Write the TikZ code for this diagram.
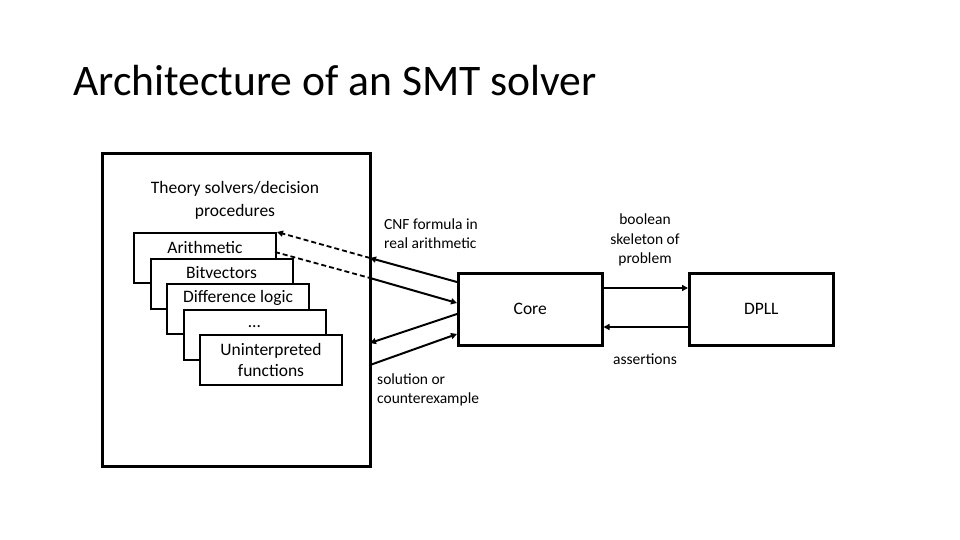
\documentclass[tikz,border=0pt]{standalone}
\usepackage{fontspec}
\setmainfont{Carlito}
\usetikzlibrary{arrows.meta}
\begin{document}
\begin{tikzpicture}[x=1pt,y=-1pt,
  stackbox/.style={draw,line width=2pt,fill=white,minimum width=142pt,minimum height=50pt,anchor=north west,inner sep=0pt},
  boxtext/.style={font=\fontsize{17.5}{21}\selectfont,align=center,inner sep=0pt},
  mainbox/.style={draw,line width=2.5pt,minimum width=144pt,minimum height=72pt,anchor=north west,inner sep=0pt,font=\fontsize{17.5}{21}\selectfont},
  lbl/.style={font=\fontsize{15.5}{19.3}\selectfont,inner sep=0pt},
  arr/.style={line width=2pt,-{Triangle[length=6pt,width=6pt]}},
  dashline/.style={line width=1.8pt,dash pattern=on 5pt off 3pt}
]
\useasboundingbox (0,0) rectangle (960,540);
\node[anchor=base west,inner sep=0pt,font=\fontsize{43.6}{50}\selectfont] (title) at (73,96) {Architecture of an SMT solver};
% outer box
\node[draw,line width=3pt,minimum width=268pt,minimum height=313pt,anchor=north west,inner sep=0pt] (outer) at (101,152) {};
\node[boxtext,font=\fontsize{17.5}{23}\selectfont] (theory) at (235,200) {Theory solvers/decision\\procedures};
% stack
\node[stackbox] (a1) at (133,232) {};
\node[boxtext] (t1) at ([yshift=-15pt]a1.north) {Arithmetic};
\node[stackbox] (a2) at (149.5,258) {};
\node[boxtext] (t2) at ([yshift=-14.5pt]a2.north) {Bitvectors};
\node[stackbox] (a3) at (166,283) {};
\node[boxtext] (t3) at ([yshift=-15pt]a3.north) {Difference logic};
\node[stackbox] (a4) at (182.5,309) {};
\node[boxtext] (t4) at ([yshift=-18pt]a4.north) {\ldots};
\node[stackbox] (a5) at (199,334) {};
\node[boxtext] (t5) at ([yshift=-25.5pt]a5.north) {Uninterpreted\\functions};
% core and dpll
\node[mainbox] (core) at (457,272) {Core};
\node[mainbox] (dpll) at (688,272) {DPLL};
% coordinates
\coordinate (o1) at (370,258);
\coordinate (o2) at (370,278);
\coordinate (o3) at (370,343);
\coordinate (o4) at (370,365);
\coordinate (c1) at (457,282);
\coordinate (c2) at (457,303);
\coordinate (c3) at (457,314);
\coordinate (c4) at (457,334);
\coordinate (a1e) at (275,252);
% arrows
\draw[arr] (c1) -- (o1);
\draw[arr] (o2) -- (c2);
\draw[arr] (c3) -- (o3);
\draw[arr] (o4) -- (c4);
\draw[dashline,-{Triangle[length=6pt,width=6pt]}] (o1) -- (a1.north east);
\draw[dashline] (a1e) -- (o2);
\draw[arr] (core.east |- 0,288) -- (dpll.west |- 0,288);
\draw[arr] (dpll.west |- 0,327) -- (core.east |- 0,327);
% labels
\node[lbl,align=left,anchor=west] (cnf) at (384,233.5) {CNF formula in\\real arithmetic};
\node[lbl,align=left,anchor=west] (sol) at (377,390) {solution or\\counterexample};
\node[lbl,align=center] (bool) at (645,240) {boolean\\skeleton of\\problem};
\node[lbl] (asr) at (645,359) {assertions};
\end{tikzpicture}
\end{document}
